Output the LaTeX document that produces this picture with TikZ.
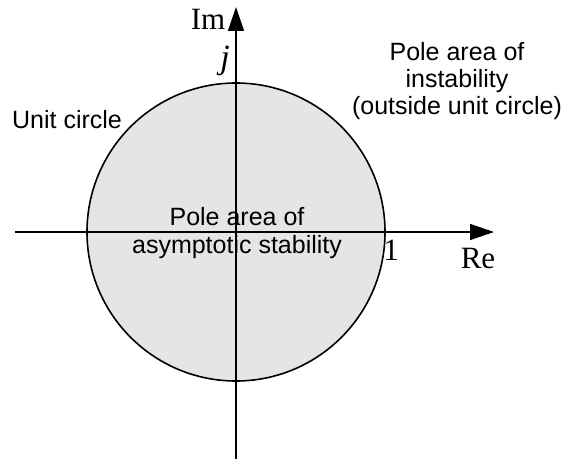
\documentclass[tikz,border=0pt]{standalone}
\usepackage{fontspec}
\setmainfont{Liberation Serif}
\setsansfont{Liberation Sans}
\usepackage{tikz}
\usetikzlibrary{positioning, arrows.meta}
\tikzset{
    axis/.style={line width=0.7pt, -{Triangle[length=12pt, width=8pt]}},
    disk/.style={line width=0.8pt, draw=black, fill=black!10},
    alabel/.style={font=\fontsize{15.5}{17}\selectfont, inner sep=0pt},
    region/.style={font=\sffamily\fontsize{12.5}{13.6}\selectfont, align=center, inner sep=0pt}
}
\begin{document}
\begin{tikzpicture}[x=0.5pt, y=-0.5pt]
        \useasboundingbox (0,0) rectangle (566,460);
        % Origin and axis ends
        \coordinate (O) at (236,232);
        \coordinate (ReL) at (15,232);
        \coordinate (ReR) at (494,232);
        \coordinate (ImB) at (236,459);
        \coordinate (ImT) at (236,7);

        % Unit circle
        \fill[disk] (O) circle[radius=74.5pt];

        % Axes
        \draw[axis] (ReL) -- (ReR);
        \draw[axis] (ImB) -- (ImT);

        % Axis labels
        \node[alabel] (im) at (208,19) {Im};
        \node[alabel] (re) at (478,258) {Re};
        \node[alabel] (one) at (391,250) {1};
        \node[alabel, font=\itshape\fontsize{17}{18}\selectfont] (jj) at (225,61) {j};

        % Region texts
        \node[region] (uc) at (67,120) {Unit circle};
        \node[region] (unst) at (457,81) {Pole area of\\instability\\(outside unit circle)};
        \node[region] (stab) at (237,233) {Pole area of\\asymptotic stability};
    \end{tikzpicture}
\end{document}
